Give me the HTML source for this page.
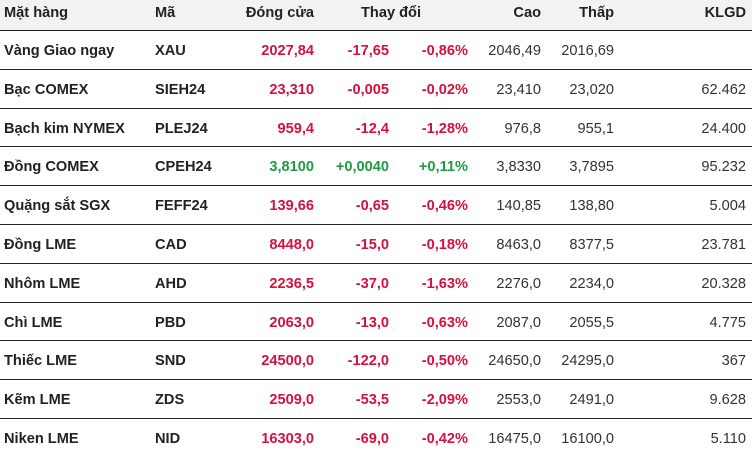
<!DOCTYPE html>
<html><head><meta charset="utf-8"><style>
body{margin:0;width:752px;height:454px;background:#fff;font-family:"Liberation Sans","DejaVu Sans",sans-serif;font-size:14.6px;color:#222;overflow:hidden;position:relative}
.r{position:absolute;left:0;width:752px;height:38.8px;line-height:40px;border-bottom:1.5px solid #222;box-sizing:border-box}
.h{position:absolute;left:0;top:0;width:752px;height:31px;line-height:27px;background:#f2f2f2;border-bottom:1.5px solid #222;box-sizing:border-box;font-weight:bold;color:#222}
.r span,.h span{position:absolute;white-space:nowrap}
.n{left:4px;font-weight:bold}.c{left:155px;font-weight:bold}
.cl{right:438px;font-weight:bold}.ch{right:363px;font-weight:bold}.p{right:284px;font-weight:bold}
.hi{right:211px;color:#333}.lo{right:138px;color:#333}.v{right:6px;color:#333}
.red .cl,.red .ch,.red .p{color:#d3123f}
.grn .cl,.grn .ch,.grn .p{color:#1f9a45}
</style></head><body>
<div class="h"><span style="left:4px">Mặt hàng</span><span style="left:155px">Mã</span><span style="right:438px">Đóng cửa</span><span style="left:361px">Thay đổi</span><span style="right:211px">Cao</span><span style="right:138px">Thấp</span><span style="right:6px">KLGD</span></div>
<div class="r red" style="top:31px"><span class="n">Vàng Giao ngay</span><span class="c">XAU</span><span class="cl">2027,84</span><span class="ch">-17,65</span><span class="p">-0,86%</span><span class="hi">2046,49</span><span class="lo">2016,69</span></div>
<div class="r red" style="top:69.8px"><span class="n">Bạc COMEX</span><span class="c">SIEH24</span><span class="cl">23,310</span><span class="ch">-0,005</span><span class="p">-0,02%</span><span class="hi">23,410</span><span class="lo">23,020</span><span class="v">62.462</span></div>
<div class="r red" style="top:108.6px"><span class="n">Bạch kim NYMEX</span><span class="c">PLEJ24</span><span class="cl">959,4</span><span class="ch">-12,4</span><span class="p">-1,28%</span><span class="hi">976,8</span><span class="lo">955,1</span><span class="v">24.400</span></div>
<div class="r grn" style="top:147.4px"><span class="n">Đồng COMEX</span><span class="c">CPEH24</span><span class="cl">3,8100</span><span class="ch">+0,0040</span><span class="p">+0,11%</span><span class="hi">3,8330</span><span class="lo">3,7895</span><span class="v">95.232</span></div>
<div class="r red" style="top:186.2px"><span class="n">Quặng sắt SGX</span><span class="c">FEFF24</span><span class="cl">139,66</span><span class="ch">-0,65</span><span class="p">-0,46%</span><span class="hi">140,85</span><span class="lo">138,80</span><span class="v">5.004</span></div>
<div class="r red" style="top:225px"><span class="n">Đồng LME</span><span class="c">CAD</span><span class="cl">8448,0</span><span class="ch">-15,0</span><span class="p">-0,18%</span><span class="hi">8463,0</span><span class="lo">8377,5</span><span class="v">23.781</span></div>
<div class="r red" style="top:263.8px"><span class="n">Nhôm LME</span><span class="c">AHD</span><span class="cl">2236,5</span><span class="ch">-37,0</span><span class="p">-1,63%</span><span class="hi">2276,0</span><span class="lo">2234,0</span><span class="v">20.328</span></div>
<div class="r red" style="top:302.6px"><span class="n">Chì LME</span><span class="c">PBD</span><span class="cl">2063,0</span><span class="ch">-13,0</span><span class="p">-0,63%</span><span class="hi">2087,0</span><span class="lo">2055,5</span><span class="v">4.775</span></div>
<div class="r red" style="top:341.4px"><span class="n">Thiếc LME</span><span class="c">SND</span><span class="cl">24500,0</span><span class="ch">-122,0</span><span class="p">-0,50%</span><span class="hi">24650,0</span><span class="lo">24295,0</span><span class="v">367</span></div>
<div class="r red" style="top:380.2px"><span class="n">Kẽm LME</span><span class="c">ZDS</span><span class="cl">2509,0</span><span class="ch">-53,5</span><span class="p">-2,09%</span><span class="hi">2553,0</span><span class="lo">2491,0</span><span class="v">9.628</span></div>
<div class="r red" style="top:419px;border-bottom:none"><span class="n">Niken LME</span><span class="c">NID</span><span class="cl">16303,0</span><span class="ch">-69,0</span><span class="p">-0,42%</span><span class="hi">16475,0</span><span class="lo">16100,0</span><span class="v">5.110</span></div>
</body></html>
